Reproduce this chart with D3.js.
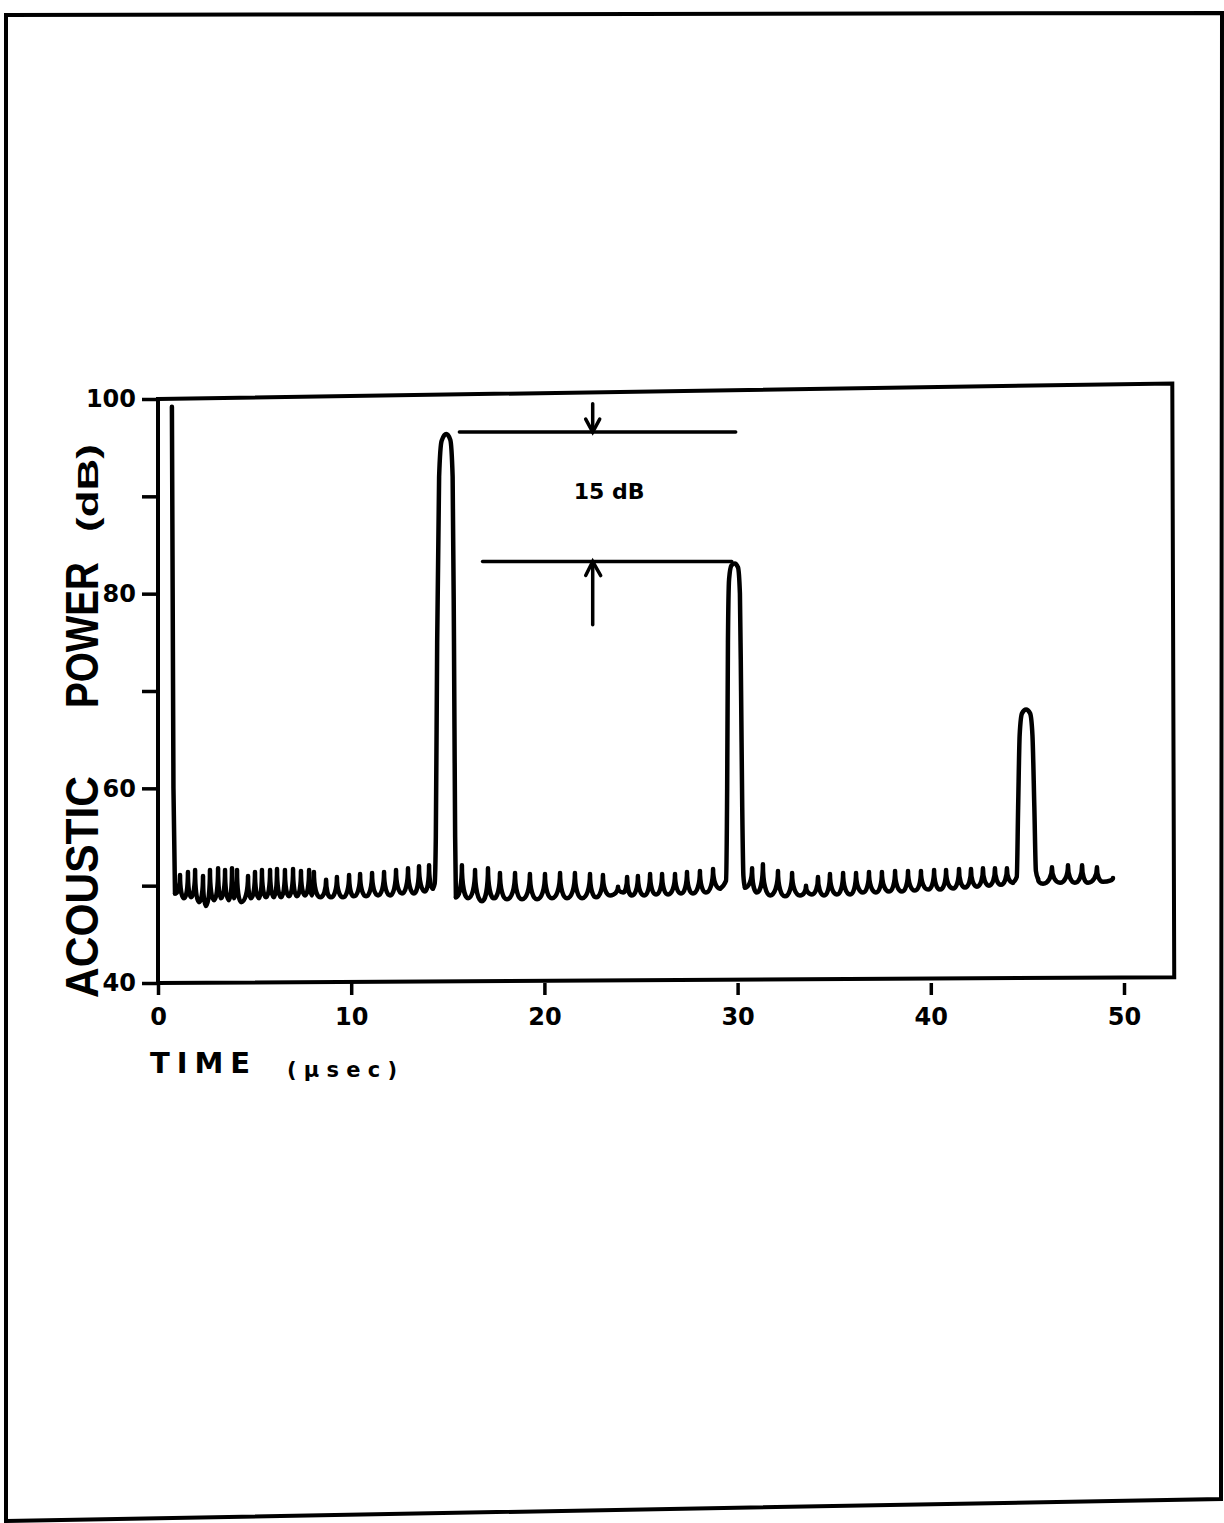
<!DOCTYPE html>
<html>
<head>
<meta charset="utf-8">
<script src="https://d3js.org/d3.v7.min.js"></script>
<style>
body { margin: 0; background: #fff; }
svg { display: block; }
text { font-weight: bold; fill: #000; }
</style>
</head>
<body>
<svg id="chart" width="1224" height="1523"></svg>
<script>
// axis ticks
var yTicks = [40, 50, 60, 70, 80, 90, 100];
var yTickLabels = ["40", "", "60", "", "80", "", "100"];
var xTicks = [0, 10, 20, 30, 40, 50];

// trace, [time (usec), power (dB)]
var peak0 = [[0.72, 99.2], [0.80, 60], [0.88, 49.2]];
var noise1 = [[0.88, 49.2], [1.14, 51.1], [1.35, 48.7], [1.55, 51.4], [1.71, 48.8], [1.92, 51.6], [2.12, 48.3],
	[2.33, 51.0], [2.48, 47.9], [2.69, 51.6], [2.90, 48.5], [3.11, 51.8], [3.26, 48.7], [3.47, 51.6], [3.67, 48.5],
	[3.83, 51.8], [3.93, 48.7], [4.09, 51.6], [4.30, 48.3], [4.66, 51.0], [4.81, 48.7], [5.02, 51.4], [5.23, 48.7],
	[5.38, 51.6], [5.59, 48.8], [5.80, 51.6], [6.00, 48.8], [6.16, 51.7], [6.37, 48.8], [6.57, 51.6], [6.78, 48.9],
	[6.99, 51.7], [7.19, 48.9], [7.40, 51.5], [7.61, 49.0], [7.82, 51.6], [7.97, 49.0], [8.07, 51.4], [8.39, 48.8],
	[8.70, 50.6], [8.95, 48.8], [9.26, 50.9], [9.58, 48.8], [9.89, 51.1], [10.14, 48.9], [10.46, 51.2], [10.77, 48.9],
	[11.08, 51.3], [11.39, 49.0], [11.70, 51.4], [12.01, 49.0], [12.32, 51.6], [12.63, 49.2], [12.94, 51.8],
	[13.25, 49.2], [13.51, 52.0], [13.82, 49.4], [14.03, 52.1], [14.23, 49.7]];
var peak1 = [[14.23, 49.7], [14.32, 50.2], [14.38, 55], [14.45, 75], [14.55, 92], [14.68, 95.7], [14.92, 96.4],
	[15.13, 95.8], [15.25, 92], [15.32, 75], [15.38, 55], [15.42, 48.8]];
var noise2 = [[15.42, 48.8], [15.73, 52.1], [16.05, 48.7], [16.41, 51.6], [16.77, 48.4], [17.08, 51.8], [17.39, 48.7],
	[17.70, 51.3], [18.06, 48.6], [18.48, 51.3], [18.84, 48.6], [19.25, 51.2], [19.62, 48.6], [20.03, 51.2],
	[20.39, 48.7], [20.81, 51.3], [21.17, 48.7], [21.58, 51.3], [21.95, 48.7], [22.36, 51.2], [22.67, 48.8],
	[23.03, 51.1], [23.40, 49.0], [23.81, 49.9], [24.07, 49.3], [24.28, 50.9], [24.53, 49.0], [24.84, 51.0],
	[25.16, 49.0], [25.47, 51.2], [25.78, 49.1], [26.09, 51.2], [26.40, 49.1], [26.76, 51.2], [27.07, 49.2],
	[27.38, 51.4], [27.69, 49.2], [28.05, 51.5], [28.36, 49.3], [28.73, 51.7], [29.10, 49.7]];
var peak2 = [[29.10, 49.7], [29.40, 50.5], [29.46, 60], [29.50, 75], [29.56, 81.5], [29.68, 82.9], [29.85, 83.1],
	[30.02, 82.7], [30.12, 80], [30.18, 70], [30.24, 58], [30.30, 51.0], [30.38, 49.8]];
var noise3 = [[30.38, 49.8], [30.75, 51.8], [31.00, 49.3], [31.31, 52.2], [31.68, 49.0], [32.09, 51.5], [32.45, 48.9],
	[32.82, 51.3], [33.23, 49.0], [33.54, 50.0], [33.85, 49.1], [34.16, 50.9], [34.47, 49.0], [34.78, 51.2],
	[35.14, 49.1], [35.46, 51.3], [35.82, 49.1], [36.13, 51.3], [36.49, 49.3], [36.80, 51.4], [37.16, 49.3],
	[37.47, 51.4], [37.84, 49.4], [38.15, 51.5], [38.51, 49.4], [38.82, 51.5], [39.18, 49.5], [39.49, 51.5],
	[39.86, 49.6], [40.17, 51.6], [40.48, 49.6], [40.79, 51.6], [41.15, 49.7], [41.46, 51.7], [41.77, 49.8],
	[42.08, 51.7], [42.39, 49.9], [42.70, 51.8], [43.01, 50.0], [43.32, 51.8], [43.63, 50.1], [43.94, 51.8],
	[44.25, 50.3]];
var peak3 = [[44.25, 50.3], [44.45, 50.9], [44.52, 58], [44.60, 65.5], [44.72, 67.7], [44.93, 68.1], [45.14, 67.7],
	[45.26, 65.5], [45.36, 58], [45.44, 51.5], [45.55, 50.7]];
var noise4 = [[45.55, 50.7], [45.81, 50.2], [46.27, 51.9], [46.69, 50.3], [47.10, 52.1], [47.46, 50.3], [47.83, 52.1],
	[48.14, 50.3], [48.60, 51.9], [48.91, 50.4], [49.43, 50.8]];

// 15 dB marker
var markTop = 96.6, markTopFrom = 15.6, markTopTo = 29.9;
var markLow = 83.3, markLowFrom = 16.8, markLowTo = 29.7;
var arrowAt = 22.5, arrowDownStart = 99.5, arrowUpStart = 76.8;
var markText = "15 dB", markTextAt = [23.35, 90.55];

var labelFont = "'DejaVu Sans', sans-serif";
var titleFont = "'Liberation Sans', Arial, sans-serif";

var svg = d3.select("#chart");

var x = d3.scaleLinear().domain([0, 50]).range([158, 1124]);
var y = d3.scaleLinear().domain([40, 100]).range([983, 399]);

// page border (scan is a bit skewed)
svg.append("path")
	.attr("d", "M6,15 L1222,13 L1221,1499 L6,1521 Z")
	.attr("fill", "none")
	.attr("stroke", "#000")
	.attr("stroke-width", 4);

// plot frame
var frame = [[0, 100], [52.5, 101.6], [52.6, 40.6], [0, 40]];
svg.append("path")
	.attr("d", d3.line().x(function(d){ return x(d[0]); }).y(function(d){ return y(d[1]); })(frame) + "Z")
	.attr("fill", "none")
	.attr("stroke", "#000")
	.attr("stroke-width", 4);

//y axis
var yAxis = svg.append("g")
	.attr("transform", "translate(" + x(0) + ",0)")
	.call(d3.axisLeft(y).tickValues(yTicks).tickSize(16).tickPadding(6)
		.tickFormat(function(d, i){ return yTickLabels[i]; }));
yAxis.select(".domain").remove();
yAxis.selectAll("line").attr("stroke", "#000").attr("stroke-width", 3.5);
yAxis.selectAll("text")
	.style("font-family", labelFont)
	.style("font-weight", "bold")
	.style("font-size", "24px");

//x axis
var xAxis = svg.append("g")
	.attr("transform", "translate(0," + y(40) + ")")
	.call(d3.axisBottom(x).tickValues(xTicks).tickSize(12).tickPadding(13));
xAxis.select(".domain").remove();
xAxis.selectAll("line").attr("stroke", "#000").attr("stroke-width", 3.5);
xAxis.selectAll("text")
	.style("font-family", labelFont)
	.style("font-weight", "bold")
	.style("font-size", "24px");

// axis titles
svg.append("text")
	.attr("x", 150).attr("y", 1073)
	.attr("textLength", 100).attr("lengthAdjust", "spacing")
	.style("font-family", labelFont)
	.style("font-size", "29px")
	.text("TIME");
svg.append("text")
	.attr("x", 287).attr("y", 1077)
	.attr("textLength", 110).attr("lengthAdjust", "spacing")
	.style("font-family", labelFont)
	.style("font-size", "21px")
	.text("(\u00b5sec)");

var yTitle = [["ACOUSTIC", 887, 47, 222], ["POWER", 635, 47, 146], ["(dB)", 488, 30, 88]];
svg.selectAll("text.ytitle")
	.data(yTitle)
	.enter()
	.append("text")
	.attr("class", "ytitle")
	.attr("transform", function(d){ return "translate(98," + d[1] + ") rotate(-90)"; })
	.attr("text-anchor", "middle")
	.attr("textLength", function(d){ return d[3]; })
	.attr("lengthAdjust", "spacingAndGlyphs")
	.style("font-family", titleFont)
	.style("font-size", function(d){ return d[2] + "px"; })
	.text(function(d){ return d[0]; });

// noise: sharp tops, round bottoms
function noisePath(pts) {
	var p = d3.path();
	var a = pts.map(function(d){ return [x(d[0]), y(d[1])]; });
	p.moveTo(a[0][0], a[0][1]);
	for (var i = 1; i < a.length; i++) {
		var s = a[i - 1], e = a[i], dx = e[0] - s[0], dy = e[1] - s[1];
		if (dy > 0) {
			p.bezierCurveTo(s[0], s[1] + 0.6 * dy, e[0] - 0.55 * dx, e[1], e[0], e[1]);
		} else {
			p.bezierCurveTo(s[0] + 0.55 * dx, s[1], e[0], e[1] - 0.6 * dy, e[0], e[1]);
		}
	}
	return p.toString();
}

var peakLine = d3.line()
	.x(function(d){ return x(d[0]); })
	.y(function(d){ return y(d[1]); })
	.curve(d3.curveMonotoneX);
var straight = d3.line()
	.x(function(d){ return x(d[0]); })
	.y(function(d){ return y(d[1]); });

var trace = svg.append("g")
	.attr("fill", "none")
	.attr("stroke", "#000")
	.attr("stroke-width", 4.5)
	.attr("stroke-linecap", "round")
	.attr("stroke-linejoin", "round");

trace.append("path").attr("d", straight(peak0));
[noise1, noise2, noise3, noise4].forEach(function(n){
	trace.append("path").attr("d", noisePath(n));
});
[peak1, peak2, peak3].forEach(function(pk){
	trace.append("path").attr("d", peakLine(pk));
});

// 15 dB marker
var mark = svg.append("g")
	.attr("fill", "none")
	.attr("stroke", "#000")
	.attr("stroke-width", 3.5)
	.attr("stroke-linecap", "round");

mark.append("line")
	.attr("x1", x(markTopFrom)).attr("x2", x(markTopTo))
	.attr("y1", y(markTop)).attr("y2", y(markTop));
mark.append("line")
	.attr("x1", x(markLowFrom)).attr("x2", x(markLowTo))
	.attr("y1", y(markLow)).attr("y2", y(markLow));

// down arrow
mark.append("line")
	.attr("x1", x(arrowAt)).attr("x2", x(arrowAt))
	.attr("y1", y(arrowDownStart)).attr("y2", y(markTop));
mark.append("path")
	.attr("d", "M" + (x(arrowAt) - 7) + "," + (y(markTop) - 13) + " L" + x(arrowAt) + "," + y(markTop) +
		" L" + (x(arrowAt) + 7) + "," + (y(markTop) - 13));

// up arrow
mark.append("line")
	.attr("x1", x(arrowAt)).attr("x2", x(arrowAt))
	.attr("y1", y(arrowUpStart)).attr("y2", y(markLow));
mark.append("path")
	.attr("d", "M" + (x(arrowAt) - 7) + "," + (y(markLow) + 14) + " L" + x(arrowAt) + "," + y(markLow) +
		" L" + (x(arrowAt) + 8) + "," + (y(markLow) + 14));

svg.append("text")
	.attr("x", x(markTextAt[0]))
	.attr("y", y(markTextAt[1]) + 8)
	.attr("text-anchor", "middle")
	.style("font-family", labelFont)
	.style("font-size", "22px")
	.text(markText);
</script>
</body>
</html>
